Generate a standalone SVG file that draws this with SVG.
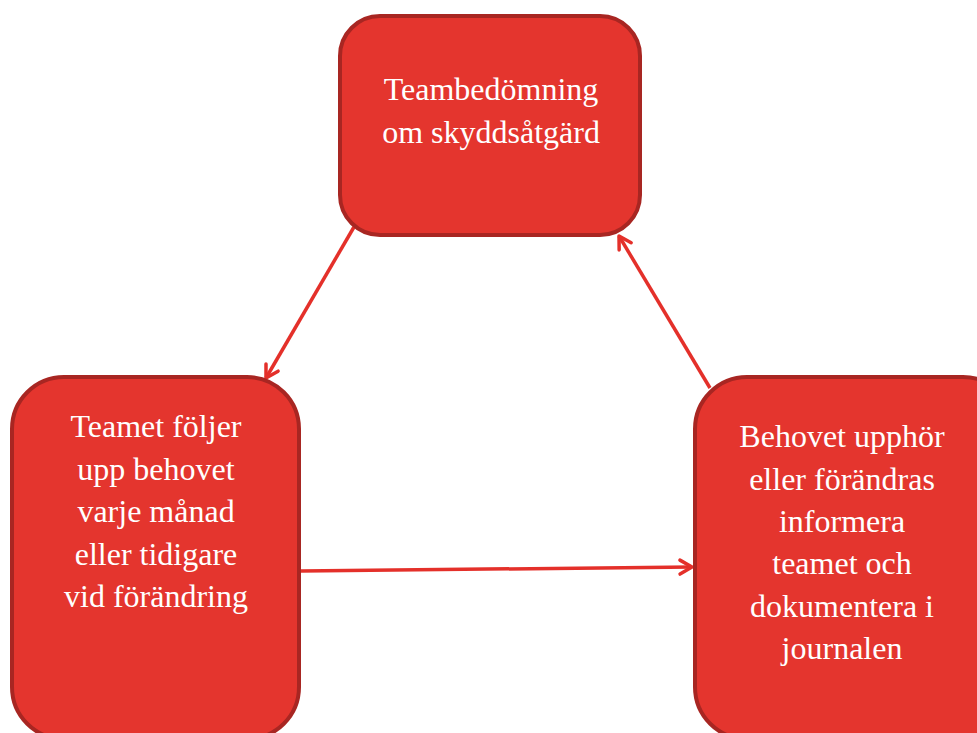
<svg xmlns="http://www.w3.org/2000/svg" width="977" height="733" viewBox="0 0 977 733">
<style>
.box{fill:#E4352E;stroke:#A82622;stroke-width:4}
.lbl{font-family:"Liberation Serif","Times New Roman",serif;font-size:32px;fill:#FFFFFF;text-anchor:middle}
.conn{stroke:#E4302A;stroke-width:3.5;fill:none}
</style>
<defs>
<marker id="arr" viewBox="0 0 20 20" refX="16" refY="10" markerWidth="20" markerHeight="20" markerUnits="userSpaceOnUse" orient="auto">
<path d="M4,3 L16,10 L4,17" fill="none" stroke="#E4302A" stroke-width="3.5" stroke-linecap="round" stroke-linejoin="round"/>
</marker>
</defs>
<rect width="977" height="733" fill="#FFFFFF"/>
<g id="connectors">
<line class="conn" x1="354" y1="227" x2="266" y2="378" marker-end="url(#arr)"/>
<line class="conn" x1="710" y1="388" x2="619" y2="236" marker-end="url(#arr)"/>
<line class="conn" x1="301" y1="571" x2="692" y2="567" marker-end="url(#arr)"/>
</g>
<g id="node-top">
<rect class="box" x="340" y="16" width="300" height="219" rx="40" ry="40"/>
<text class="lbl" x="491" y="100">Teambedömning</text>
<text class="lbl" x="491" y="143">om skyddsåtgärd</text>
</g>
<g id="node-left">
<rect class="box" x="12" y="377" width="287" height="362" rx="52" ry="52"/>
<text class="lbl" x="156" y="437">Teamet följer</text>
<text class="lbl" x="156" y="480">upp behovet</text>
<text class="lbl" x="156" y="522">varje månad</text>
<text class="lbl" x="156" y="565">eller tidigare</text>
<text class="lbl" x="156" y="607">vid förändring</text>
</g>
<g id="node-right">
<rect class="box" x="695" y="377" width="320" height="362" rx="52" ry="52"/>
<text class="lbl" x="842" y="447">Behovet upphör</text>
<text class="lbl" x="842" y="490">eller förändras</text>
<text class="lbl" x="842" y="532">informera</text>
<text class="lbl" x="842" y="574">teamet och</text>
<text class="lbl" x="842" y="617">dokumentera i</text>
<text class="lbl" x="842" y="659">journalen</text>
</g>
</svg>
